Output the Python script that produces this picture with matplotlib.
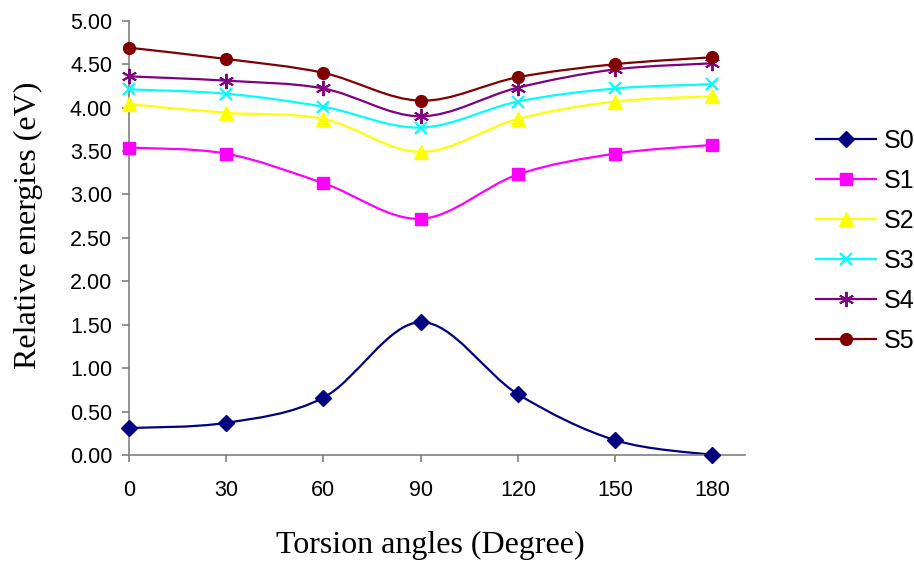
import numpy as np
import matplotlib
matplotlib.use('Agg')
import matplotlib.pyplot as plt
from matplotlib.path import Path
from matplotlib.patches import PathPatch
from matplotlib.lines import Line2D

angles = [0, 30, 60, 90, 120, 150, 180]
s0 = [0.31, 0.37, 0.66, 1.53, 0.70, 0.17, 0.00]
s1 = [3.54, 3.47, 3.13, 2.72, 3.23, 3.47, 3.57]
s2 = [4.04, 3.94, 3.87, 3.49, 3.87, 4.07, 4.13]
s3 = [4.21, 4.16, 4.01, 3.77, 4.07, 4.22, 4.27]
s4 = [4.36, 4.31, 4.22, 3.90, 4.23, 4.44, 4.51]
s5 = [4.69, 4.56, 4.40, 4.08, 4.35, 4.50, 4.58]
series_names = ['S0', 'S1', 'S2', 'S3', 'S4', 'S5']
yticks = [0, 0.5, 1, 1.5, 2, 2.5, 3, 3.5, 4, 4.5, 5]

styles = [
    dict(color='#000080', marker='D', ms=8),
    dict(color='#FF00FF', marker='s', ms=8),
    dict(color='#FFFF00', marker='^', ms=10),
    dict(color='#00FFFF', marker='x', ms=9, mew=1.6),
    dict(color='#800080', marker=(6, 2, 0), ms=11, mew=1.4),
    dict(color='#800000', marker='o', ms=8.5),
]


def smooth_path(x, y):
    """Excel-like smoothed line (Catmull-Rom as cubic Bezier)."""
    pts = np.column_stack([x, y]).astype(float)
    n = len(pts)
    verts = [pts[0]]
    codes = [Path.MOVETO]
    for i in range(n - 1):
        p_prev = pts[max(i - 1, 0)]
        p0, p1 = pts[i], pts[i + 1]
        p_next = pts[min(i + 2, n - 1)]
        c1 = p0 + (p1 - p_prev) / 6.0
        c2 = p1 - (p_next - p0) / 6.0
        verts += [c1, c2, p1]
        codes += [Path.CURVE4] * 3
    return Path(verts, codes)


plt.rcParams['font.family'] = ['Liberation Sans', 'DejaVu Sans']

fig = plt.figure(figsize=(9.14, 5.61), dpi=100)
ax = fig.add_axes([0.141, 0.189, 0.674, 0.774])

handles = []
for name, vals, st in zip(series_names, [s0, s1, s2, s3, s4, s5], styles):
    ax.add_patch(PathPatch(smooth_path(angles, vals), fill=False,
                           edgecolor=st['color'], lw=1.6, zorder=2))
    ax.plot(angles, vals, linestyle='none', marker=st['marker'], ms=st['ms'],
            color=st['color'], mew=st.get('mew', 1), zorder=3, clip_on=False)
    handles.append(Line2D([], [], color=st['color'], lw=1.6, marker=st['marker'],
                          ms=st['ms'], mew=st.get('mew', 1), label=name))

ax.set_xlim(0, 190)
ax.set_ylim(0, 5)
ax.set_xticks(angles)
ax.set_yticks(yticks)
ax.set_yticklabels([f'{v:.2f}' for v in yticks])

for side in ['top', 'right']:
    ax.spines[side].set_visible(False)
for side in ['left', 'bottom']:
    ax.spines[side].set_color('#808080')
    ax.spines[side].set_linewidth(1.2)
ax.tick_params(axis='both', colors='#808080', labelcolor='black',
               labelsize=15.5, length=5, width=1.2)
ax.tick_params(axis='x', pad=13)
ax.tick_params(axis='y', pad=7)

ax.set_xlabel('Torsion angles (Degree)', family='Liberation Serif', fontsize=23)
ax.set_ylabel('Relative energies (eV)', family='Liberation Serif', fontsize=23)
ax.xaxis.set_label_coords(0.49, -0.208)
ax.yaxis.set_label_coords(-0.163, 0.528)
ax.xaxis.label.set_va('center')
ax.yaxis.label.set_va('center')

fig.legend(handles=handles, loc='center left', bbox_to_anchor=(0.893, 0.57),
           frameon=False, fontsize=18, handlelength=2.4, handletextpad=0.3,
           labelspacing=0.64, borderpad=0, borderaxespad=0)

fig.savefig('out.png', dpi=100)
